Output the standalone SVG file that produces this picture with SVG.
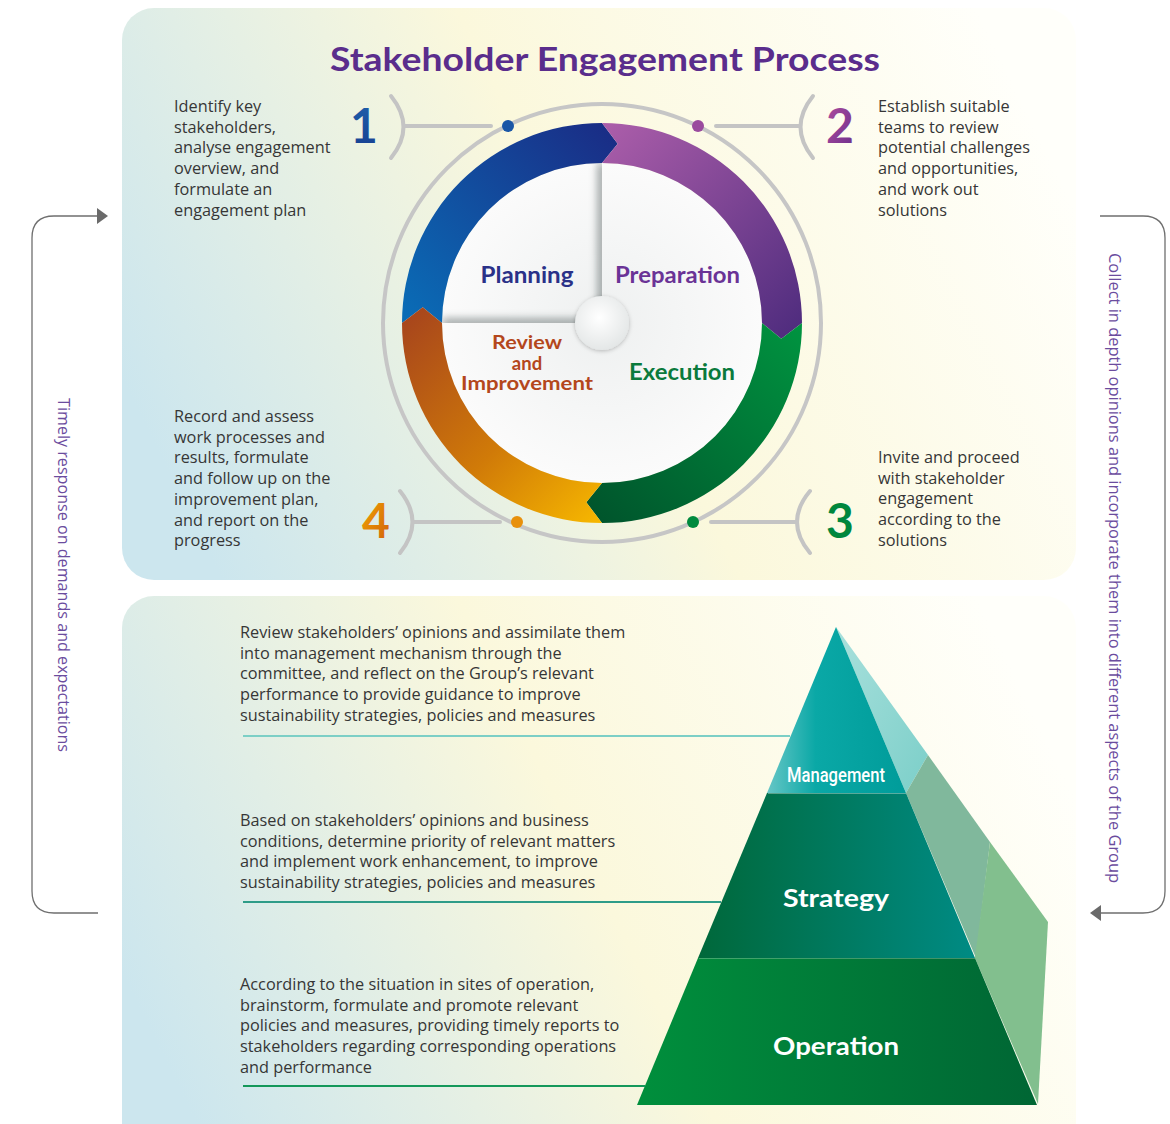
<svg xmlns="http://www.w3.org/2000/svg" width="1170" height="1124" viewBox="0 0 1170 1124">
<style>
.body{font-family:"Open Sans","Noto Sans",sans-serif;font-size:16.3px;fill:#363636}
.lbl{font-family:"Lato","Open Sans",sans-serif;font-weight:700}
.num{font-family:"Lato","Open Sans",sans-serif;font-weight:700;font-size:48px;text-anchor:middle}
.side{font-family:"Open Sans","Noto Sans",sans-serif;font-size:16px;fill:#6b4c9e;text-anchor:middle}
.grey{fill:none;stroke:#c4c4c4;stroke-width:4;stroke-linecap:round}
.conn{fill:none;stroke:#6f6f6f;stroke-width:1.3}
.pyr{font-family:"Lato","Open Sans",sans-serif;font-weight:700;fill:#fff;text-anchor:middle}
</style>
<defs>
<linearGradient id="bg" x1="0" y1="0.65" x2="1" y2="0.35">
<stop offset="0" stop-color="#cce6ee"/><stop offset="0.5" stop-color="#fbf8dc"/><stop offset="1" stop-color="#fffffa"/>
</linearGradient>
<linearGradient id="gBlue" gradientUnits="userSpaceOnUse" x1="410" y1="320" x2="610" y2="125">
<stop offset="0" stop-color="#0a6cb6"/><stop offset="1" stop-color="#1a2c85"/>
</linearGradient>
<linearGradient id="gPurple" gradientUnits="userSpaceOnUse" x1="602" y1="125" x2="800" y2="330">
<stop offset="0" stop-color="#ac5eaa"/><stop offset="1" stop-color="#4f2c7e"/>
</linearGradient>
<linearGradient id="gGreen" gradientUnits="userSpaceOnUse" x1="800" y1="320" x2="600" y2="520">
<stop offset="0" stop-color="#009440"/><stop offset="1" stop-color="#00552c"/>
</linearGradient>
<linearGradient id="gOrange" gradientUnits="userSpaceOnUse" x1="405" y1="320" x2="602" y2="522">
<stop offset="0" stop-color="#a8461c"/><stop offset="0.55" stop-color="#d07a08"/><stop offset="1" stop-color="#f7b800"/>
</linearGradient>
<radialGradient id="gDisc" cx="0.5" cy="0.5" r="0.5">
<stop offset="0" stop-color="#eef0f0"/><stop offset="1" stop-color="#fbfbfb"/>
</radialGradient>
<radialGradient id="gHub" cx="0.45" cy="0.4" r="0.6">
<stop offset="0" stop-color="#ffffff"/><stop offset="1" stop-color="#e4e7e7"/>
</radialGradient>
<linearGradient id="n1" x1="0" y1="0" x2="0" y2="1"><stop offset="0" stop-color="#1d62ad"/><stop offset="1" stop-color="#173e90"/></linearGradient>
<linearGradient id="n2" x1="0" y1="0" x2="1" y2="1"><stop offset="0" stop-color="#b34f9f"/><stop offset="1" stop-color="#6a2e8c"/></linearGradient>
<linearGradient id="n4" x1="0" y1="0" x2="1" y2="1"><stop offset="0" stop-color="#f3a900"/><stop offset="1" stop-color="#cf5c0c"/></linearGradient>
<linearGradient id="pM" gradientUnits="userSpaceOnUse" x1="767" y1="0" x2="906" y2="0">
<stop offset="0" stop-color="#66c6c6"/><stop offset="0.35" stop-color="#0aa8a6"/><stop offset="1" stop-color="#009c9a"/>
</linearGradient>
<linearGradient id="pS" gradientUnits="userSpaceOnUse" x1="698" y1="0" x2="975" y2="0">
<stop offset="0" stop-color="#00683a"/><stop offset="1" stop-color="#008b84"/>
</linearGradient>
<linearGradient id="pO" gradientUnits="userSpaceOnUse" x1="637" y1="0" x2="1037" y2="0">
<stop offset="0" stop-color="#008f3c"/><stop offset="1" stop-color="#006634"/>
</linearGradient>
<linearGradient id="sT" x1="0" y1="0" x2="1" y2="1"><stop offset="0" stop-color="#a8e0dc"/><stop offset="1" stop-color="#7ccfc9"/></linearGradient>
<filter id="blur" x="-50%" y="-50%" width="200%" height="200%"><feGaussianBlur stdDeviation="4"/></filter>
<filter id="soft" x="-30%" y="-30%" width="160%" height="160%"><feDropShadow dx="0" dy="1" stdDeviation="2" flood-color="#000" flood-opacity="0.25"/></filter>
<clipPath id="qTL"><path d="M602 323 L442 323 A160 160 0 0 1 602 163 Z"/></clipPath>
<clipPath id="qBL"><path d="M602 323 L602 483 A160 160 0 0 1 442 323 Z"/></clipPath>
<clipPath id="qBR"><path d="M602 323 L762 323 A160 160 0 0 1 602 483 Z"/></clipPath>
<marker id="arr" viewBox="0 0 11 16" refX="0" refY="8" markerWidth="11" markerHeight="16" markerUnits="userSpaceOnUse" orient="auto">
<path d="M0 0 L11 8 L0 16 Z" fill="#6a6a6a"/>
</marker>
</defs>

<rect x="0" y="0" width="1170" height="1124" fill="#ffffff"/>
<g id="panels">
<rect x="122" y="8" width="954" height="572" rx="32" fill="url(#bg)"/>
<rect x="122" y="596" width="954" height="580" rx="32" fill="url(#bg)"/>
</g>

<text id="title" x="605" y="71" text-anchor="middle" class="lbl" font-size="32" fill="#5a2d8c" textLength="550" lengthAdjust="spacingAndGlyphs">Stakeholder Engagement Process</text>

<g id="wheel">
<circle cx="602" cy="323" r="219" fill="none" stroke="#c6c6c6" stroke-width="4"/>
<circle cx="602" cy="323" r="160" fill="url(#gDisc)"/>
<g clip-path="url(#qTL)" filter="url(#blur)" opacity="0.55">
<line x1="602" y1="163" x2="602" y2="323" stroke="#3e4a4a" stroke-width="8"/>
<line x1="442" y1="323" x2="602" y2="323" stroke="#3e4a4a" stroke-width="8"/>
</g>
<g clip-path="url(#qBL)" filter="url(#blur)" opacity="0.5">
<line x1="602" y1="323" x2="602" y2="483" stroke="#3e4a4a" stroke-width="8"/>
</g>
<g clip-path="url(#qBR)" filter="url(#blur)" opacity="0.5">
<line x1="602" y1="323" x2="762" y2="323" stroke="#3e4a4a" stroke-width="8"/>
</g>
<circle cx="602" cy="323" r="27" fill="url(#gHub)" filter="url(#soft)"/>
</g>

<g id="stage-planning">
<path d="M402 323 A200 200 0 0 1 602 123 L617.7 143.7 L602 163 A160 160 0 0 0 442 323 L422.7 307.3 Z" fill="url(#gBlue)"/>
<text x="527" y="283" text-anchor="middle" class="lbl" font-size="22" fill="#2a3188" textLength="93" lengthAdjust="spacingAndGlyphs">Planning</text>
<text x="364" y="143" class="num" fill="url(#n1)">1</text>
<text class="body" x="174" y="112"><tspan x="174">Identify key</tspan><tspan x="174" dy="20.7">stakeholders,</tspan><tspan x="174" dy="20.7">analyse engagement</tspan><tspan x="174" dy="20.7">overview, and</tspan><tspan x="174" dy="20.7">formulate an</tspan><tspan x="174" dy="20.7">engagement plan</tspan></text>
</g>

<g id="stage-preparation">
<path d="M602 123 A200 200 0 0 1 802 323 L781.3 338.7 L762 323 A160 160 0 0 0 602 163 L617.7 143.7 Z" fill="url(#gPurple)"/>
<text x="677.5" y="283" text-anchor="middle" class="lbl" font-size="22" fill="#6a3396" textLength="125" lengthAdjust="spacingAndGlyphs">Preparation</text>
<text x="840" y="143" class="num" fill="url(#n2)">2</text>
<text class="body" x="878" y="112"><tspan x="878">Establish suitable</tspan><tspan x="878" dy="20.7">teams to review</tspan><tspan x="878" dy="20.7">potential challenges</tspan><tspan x="878" dy="20.7">and opportunities,</tspan><tspan x="878" dy="20.7">and work out</tspan><tspan x="878" dy="20.7">solutions</tspan></text>
</g>

<g id="stage-execution">
<path d="M802 323 A200 200 0 0 1 602 523 L586.3 502.3 L602 483 A160 160 0 0 0 762 323 L781.3 338.7 Z" fill="url(#gGreen)"/>
<text x="682" y="380" text-anchor="middle" class="lbl" font-size="22" fill="#0a7a3c" textLength="106" lengthAdjust="spacingAndGlyphs">Execution</text>
<text x="840" y="538" class="num" fill="#00873d">3</text>
<text class="body" x="878" y="463"><tspan x="878">Invite and proceed</tspan><tspan x="878" dy="20.7">with stakeholder</tspan><tspan x="878" dy="20.7">engagement</tspan><tspan x="878" dy="20.7">according to the</tspan><tspan x="878" dy="20.7">solutions</tspan></text>
</g>

<g id="stage-review">
<path d="M602 523 A200 200 0 0 1 402 323 L422.7 307.3 L442 323 A160 160 0 0 0 602 483 L586.3 502.3 Z" fill="url(#gOrange)"/>
<text x="527" y="349" text-anchor="middle" class="lbl" font-size="18.5" fill="#b4471c" textLength="70" lengthAdjust="spacingAndGlyphs">Review</text>
<text x="527" y="369.5" text-anchor="middle" class="lbl" font-size="18.5" fill="#b4471c">and</text>
<text x="527" y="390" text-anchor="middle" class="lbl" font-size="18.5" fill="#b4471c" textLength="132" lengthAdjust="spacingAndGlyphs">Improvement</text>
<text x="376" y="538" class="num" fill="url(#n4)">4</text>
<text class="body" x="174" y="422"><tspan x="174">Record and assess</tspan><tspan x="174" dy="20.7">work processes and</tspan><tspan x="174" dy="20.7">results, formulate</tspan><tspan x="174" dy="20.7">and follow up on the</tspan><tspan x="174" dy="20.7">improvement plan,</tspan><tspan x="174" dy="20.7">and report on the</tspan><tspan x="174" dy="20.7">progress</tspan></text>
</g>

<g id="pyramid-management">
<path d="M836 627 L928 755 L906 793 Z" fill="url(#sT)"/>
<path d="M836 627 L767 793 L906 793 Z" fill="url(#pM)"/>
<text x="836" y="782" class="pyr" font-size="21" textLength="98" lengthAdjust="spacingAndGlyphs" style="font-family:Roboto,'Open Sans',sans-serif;font-weight:500">Management</text>
<line x1="243" y1="736" x2="790" y2="736" stroke="#7ccfc6" stroke-width="2"/>
<text class="body" x="240" y="638"><tspan x="240">Review stakeholders’ opinions and assimilate them</tspan><tspan x="240" dy="20.7">into management mechanism through the</tspan><tspan x="240" dy="20.7">committee, and reflect on the Group’s relevant</tspan><tspan x="240" dy="20.7">performance to provide guidance to improve</tspan><tspan x="240" dy="20.7">sustainability strategies, policies and measures</tspan></text>
</g>

<g id="pyramid-strategy">
<path d="M928 755 L990 842 L976 958 L906 793 Z" fill="#80b89c"/>
<path d="M767 793 L906 793 L975 958 L698 958 Z" fill="url(#pS)"/>
<line x1="768" y1="793.5" x2="906" y2="793.5" stroke="#ffffff" stroke-opacity="0.35" stroke-width="1"/>
<text x="836" y="907" class="pyr" font-size="24" textLength="106" lengthAdjust="spacingAndGlyphs">Strategy</text>
<line x1="243" y1="902" x2="721" y2="902" stroke="#2e9c88" stroke-width="2"/>
<text class="body" x="240" y="826"><tspan x="240">Based on stakeholders’ opinions and business</tspan><tspan x="240" dy="20.7">conditions, determine priority of relevant matters</tspan><tspan x="240" dy="20.7">and implement work enhancement, to improve</tspan><tspan x="240" dy="20.7">sustainability strategies, policies and measures</tspan></text>
</g>

<g id="pyramid-operation">
<path d="M990 842 L1048 922 L1038 1104 L975 958 Z" fill="#82bf8e"/>
<path d="M698 958 L975 958 L1037 1105 L637 1105 Z" fill="url(#pO)"/>
<line x1="699" y1="958.5" x2="975" y2="958.5" stroke="#ffffff" stroke-opacity="0.25" stroke-width="1"/>
<text x="836" y="1055" class="pyr" font-size="24" textLength="126" lengthAdjust="spacingAndGlyphs">Operation</text>
<line x1="243" y1="1086" x2="645" y2="1086" stroke="#14985a" stroke-width="2"/>
<text class="body" x="240" y="990"><tspan x="240">According to the situation in sites of operation,</tspan><tspan x="240" dy="20.7">brainstorm, formulate and promote relevant</tspan><tspan x="240" dy="20.7">policies and measures, providing timely reports to</tspan><tspan x="240" dy="20.7">stakeholders regarding corresponding operations</tspan><tspan x="240" dy="20.7">and performance</tspan></text>
</g>

<g id="connectors">
<path class="grey" d="M391 96 Q416 127 391 158"/>
<line class="grey" x1="404" y1="126" x2="491" y2="126"/>
<circle cx="508" cy="126" r="6" fill="#1a56a6"/>
<path class="grey" d="M813 96 Q788 127 813 158"/>
<line class="grey" x1="800" y1="126" x2="716" y2="126"/>
<circle cx="698" cy="126" r="6" fill="#9a4a9e"/>
<path class="grey" d="M810 491 Q784 522 810 553"/>
<line class="grey" x1="797" y1="522" x2="711" y2="522"/>
<circle cx="693" cy="522" r="6" fill="#008a3e"/>
<path class="grey" d="M400 491 Q425 522 400 553"/>
<line class="grey" x1="413" y1="522" x2="500" y2="522"/>
<circle cx="517" cy="522" r="6" fill="#e8900c"/>
<path class="conn" d="M98 913 L54 913 Q32 913 32 891 L32 238 Q32 216 54 216 L97 216" marker-end="url(#arr)"/>
<path class="conn" d="M1100 216 L1143 216 Q1165 216 1165 238 L1165 891 Q1165 913 1143 913 L1101 913" marker-end="url(#arr)"/>
<text class="side" transform="translate(58,575) rotate(90)" textLength="354" lengthAdjust="spacingAndGlyphs">Timely response on demands and expectations</text>
<text class="side" transform="translate(1109,568) rotate(90)" textLength="630" lengthAdjust="spacingAndGlyphs">Collect in depth opinions and incorporate them into different aspects of the Group</text>
</g>
</svg>
